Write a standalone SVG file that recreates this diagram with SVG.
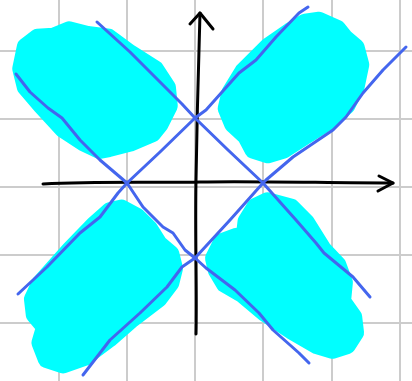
<svg xmlns="http://www.w3.org/2000/svg" width="412" height="381" viewBox="0 0 412 381">
<style>
.grid{stroke:#cccccc;stroke-width:2;fill:none}
.blob{fill:#00ffff;stroke:#00ffff;stroke-width:18;stroke-linejoin:round}
.axis{stroke:#000;stroke-width:3;fill:none;stroke-linecap:round;stroke-linejoin:round}
.bl{stroke:#4466ee;stroke-width:3;fill:none;stroke-linecap:round;stroke-linejoin:round}
</style>
<rect width="412" height="381" fill="#fff"/>
<g id="grid" class="grid">
<line x1="59" y1="0" x2="59" y2="381"/>
<line x1="127" y1="0" x2="127" y2="381"/>
<line x1="195" y1="0" x2="195" y2="381"/>
<line x1="263" y1="0" x2="263" y2="381"/>
<line x1="332" y1="0" x2="332" y2="381"/>
<line x1="400" y1="0" x2="400" y2="381"/>
<line x1="0" y1="51" x2="412" y2="51"/>
<line x1="0" y1="119" x2="412" y2="119"/>
<line x1="0" y1="187" x2="412" y2="187"/>
<line x1="0" y1="255" x2="412" y2="255"/>
<line x1="0" y1="323" x2="412" y2="323"/>
</g>
<g id="blob-top-left" transform="translate(95,92) scale(0.93) translate(-95,-92)">
<polygon class="blob" points="20,43 33,33 50,32 67,25 87,30 110,33 133,50 160,67 173,87 175,107 165,127 157,137 133,147 110,153 100,155 83,147 60,132 37,107 20,87 15,67"/>
</g>
<g id="blob-top-right" transform="translate(293,88) scale(0.93) translate(-293,-88)">
<polygon class="blob" points="321,15 341,24 349,34 361,44 366,63 361,87 351,107 333,123 306,140 283,155 266,160 250,155 242,140 228,127 221,110 225,93 239,70 266,43 289,27 306,17"/>
</g>
<g id="blob-bottom-left" transform="translate(103,287) scale(0.93) translate(-103,-287)">
<polygon class="blob" points="123,202 140,211 153,224 163,240 176,251 180,267 176,283 163,300 133,323 110,343 83,363 60,371 42,365 35,347 40,330 29,317 27,300 35,283 67,247 93,220 110,205"/>
</g>
<g id="blob-bottom-right" transform="translate(285,276) scale(0.93) translate(-285,-276)">
<polygon class="blob" points="266,195 292,202 308,218 326,247 342,264 349,283 347,303 359,320 361,337 352,351 336,356 319,351 293,336 263,316 239,296 220,285 211,270 208,257 217,239 233,233 241,234 243,217 253,201"/>
</g>
<g id="axes">
<path class="axis" d="M43,184 C100,181 160,183 200,182 C260,181 330,183 393,183"/>
<path class="axis" d="M379,176 L393,183 L378,191"/>
<path class="axis" d="M200,13 C198,80 197,120 196,180 C195,240 197,290 196,334"/>
<path class="axis" d="M190,24 L200,13 L213,29"/>
</g>
<g id="connectors">
<polyline class="bl" points="97,22 130,52 160,82 182,104 195,118 228,150 263,183 296,220 316,243 324,253 353,277 370,297"/>
<polyline class="bl" points="16,74 30,92 48,108 62,118 80,140 100,160 127,183 143,207 163,227 173,233 185,250 195,258 206,268 235,290 259,313 273,330 290,345 299,353 309,363"/>
<polyline class="bl" points="18,294 47,267 80,233 100,217 118,193 127,183 160,152 195,118 206,110 239,73 256,60 276,37 299,13 308,7"/>
<polyline class="bl" points="83,375 110,340 140,313 167,287 182,267 195,258 230,220 263,183 266,180 293,157 333,130 346,117 363,93 383,70 406,47"/>
</g>
</svg>
